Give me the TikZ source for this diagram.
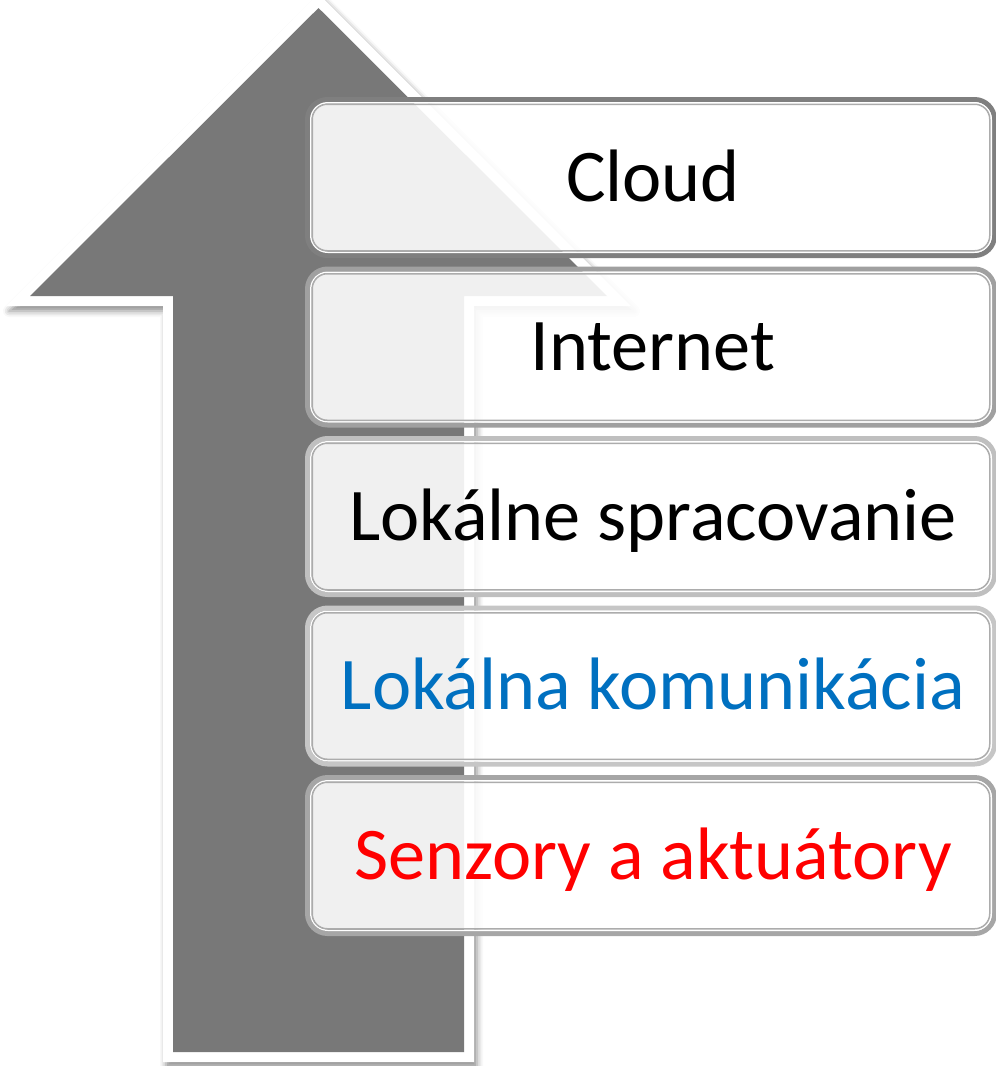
\documentclass[tikz,border=0pt]{standalone}
\usepackage{fontspec}
\setmainfont{Carlito}
\usetikzlibrary{shadows.blur}

\definecolor{sipka}{RGB}{120,120,120}
\definecolor{modra}{RGB}{0,112,192}
\definecolor{cervena}{RGB}{255,0,0}
\definecolor{pas1}{RGB}{127,127,127}
\definecolor{pas2}{RGB}{160,160,160}
\definecolor{pas3}{RGB}{191,191,191}
\definecolor{pas4}{RGB}{198,198,198}
\definecolor{pas5}{RGB}{166,166,166}
\definecolor{linka}{RGB}{172,172,172}

\begin{document}
\begin{tikzpicture}[x=0.02cm,y=-0.02cm,
    pas/.style={line width=0.1cm, rounded corners=0.4cm},
    biela/.style={draw=white, line width=0.03cm, rounded corners=0.34cm},
    vnutro/.style={draw=linka, line width=0.03cm, fill=white, fill opacity=0.89, rounded corners=0.3cm},
    popis/.style={anchor=base, inner sep=0pt, font=\fontsize{42.3}{50}\selectfont}]
    \useasboundingbox (0,0) rectangle (996,1066);

    % sipka
    \fill[white, blur shadow={shadow xshift=0.06cm, shadow yshift=-0.1cm, shadow blur radius=0.12cm, shadow opacity=45}]
        (318.5,-6) -- (631,306) -- (474,306) -- (474,1062) -- (163,1062) -- (163,306) -- (6,306) -- cycle;
    \fill[sipka] (318.5,8) -- (607,296) -- (464,296) -- (464,1052) -- (173,1052) -- (173,296) -- (30,296) -- cycle;

    % vrstvy
    \foreach \t/\n/\c/\f/\s in {97/cloud/pas1/black/Cloud,
                                266.5/internet/pas2/black/Internet,
                                436/spracovanie/pas3/black/Lokálne spracovanie,
                                605.5/komunikacia/pas4/modra/Lokálna komunikácia,
                                775/senzory/pas5/cervena/Senzory a aktuátory} {
        \draw[pas, draw=\c] (307.5,\t+2.5) rectangle (994.5,\t+158.5);
        \draw[biela] (310.75,\t+5.75) rectangle (991.25,\t+155.25);
        \draw[vnutro] (312.25,\t+7.25) rectangle (989.75,\t+153.75);
        \node[popis, text=\f] (\n) at (653,\t+104) {\s};
    }
\end{tikzpicture}
\end{document}
